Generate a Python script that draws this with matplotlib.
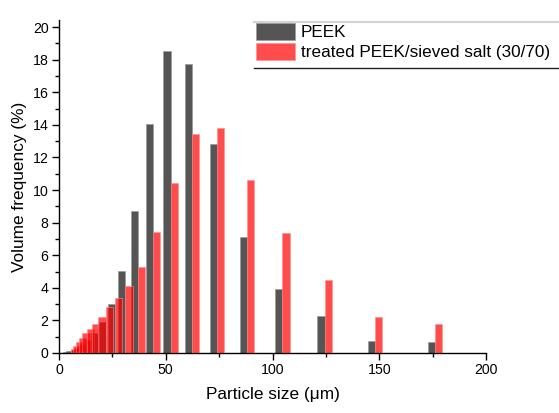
import matplotlib
matplotlib.use("Agg")
import matplotlib.pyplot as plt
from matplotlib.patches import Patch
from matplotlib.lines import Line2D
import numpy as np

plt.rcParams["font.family"] = ["Liberation Sans", "DejaVu Sans"]

# Particle size classes (µm), geometric series of the diffraction analyser
size_classes = [5.5, 6.54, 7.78, 9.25, 11.0, 13.08, 15.56, 18.5, 22.0, 26.16, 31.11,
                37.0, 44.0, 52.33, 62.23, 74.0, 88.0, 104.66, 124.45, 148.0, 176.0]

# Volume frequency (%) per class
peek = [0.05, 0.1, 0.15, 0.2, 0.3, 0.5, 0.8, 1.25, 1.9, 3.0, 5.05,
        8.7, 14.05, 18.5, 17.75, 12.85, 7.1, 3.9, 2.25, 0.75, 0.7]
treated = [0.25, 0.45, 0.65, 0.9, 1.2, 1.5, 1.8, 2.2, 2.8, 3.4, 4.1,
           5.3, 7.4, 10.45, 13.45, 13.8, 10.6, 7.35, 4.5, 2.2, 1.75]

series_labels = ["PEEK", "treated PEEK/sieved salt (30/70)"]

x_ticks = [0, 50, 100, 150, 200]
y_ticks = [0, 2, 4, 6, 8, 10, 12, 14, 16, 18, 20]

W, H = 559, 413
fig = plt.figure(figsize=(W / 100, H / 100), dpi=100)
ax = fig.add_axes([59 / W, (H - 353) / H, 427 / W, (353 - 20) / H])

bar_w = 3.4
gray = "#555555"
red = (1.0, 0.0, 0.0, 0.7)

x = np.array(size_classes)
ax.bar(x - bar_w, peek, width=bar_w, align="edge", color=gray,
       edgecolor="#9a9a9a", linewidth=0.5, zorder=2)
ax.bar(x, treated, width=bar_w, align="edge", color=red,
       edgecolor=(1.0, 0.55, 0.55, 0.8), linewidth=0.5, zorder=3)

ax.set_xlim(0, 200)
ax.set_ylim(0, 20.43)
ax.set_xticks(x_ticks)
ax.set_yticks(y_ticks)
ax.set_xticks(np.arange(25, 200, 50), minor=True)
ax.set_yticks(np.arange(1, 21, 2), minor=True)

for s in ["top", "right"]:
    ax.spines[s].set_visible(False)
for s in ["left", "bottom"]:
    ax.spines[s].set_linewidth(1.0)
    ax.spines[s].set_color("black")

ax.tick_params(which="major", direction="out", length=5, width=1.0,
               labelsize=10.2, pad=2.5, colors="black")
ax.tick_params(which="minor", direction="out", length=3, width=1.0)

ax.set_xlabel("Particle size (\u03bcm)", fontsize=12.4, labelpad=7)
ax.set_ylabel("Volume frequency (%)", fontsize=12.4, labelpad=4)

handles = [Patch(facecolor=gray, edgecolor="#9a9a9a", linewidth=0.5),
           Patch(facecolor=red, edgecolor=(1.0, 0.55, 0.55, 0.8), linewidth=0.5)]
fig.legend(handles, series_labels, loc="upper left",
           bbox_to_anchor=(256 / W, 1 - 23 / H), bbox_transform=fig.transFigure,
           frameon=False, fontsize=12.3, handlelength=2.28, handleheight=1.11,
           handletextpad=0.33, labelspacing=0.18, borderpad=0.0, borderaxespad=0.0)

# legend box rules
fig.add_artist(Line2D([254 / W, 1.0], [1 - 22 / H, 1 - 22 / H],
                      transform=fig.transFigure, color="#d4d4d4", linewidth=1.5))
fig.add_artist(Line2D([254 / W, 1.0], [1 - 68 / H, 1 - 68 / H],
                      transform=fig.transFigure, color="#222222", linewidth=1.0))

fig.savefig("out.png", dpi=100)
